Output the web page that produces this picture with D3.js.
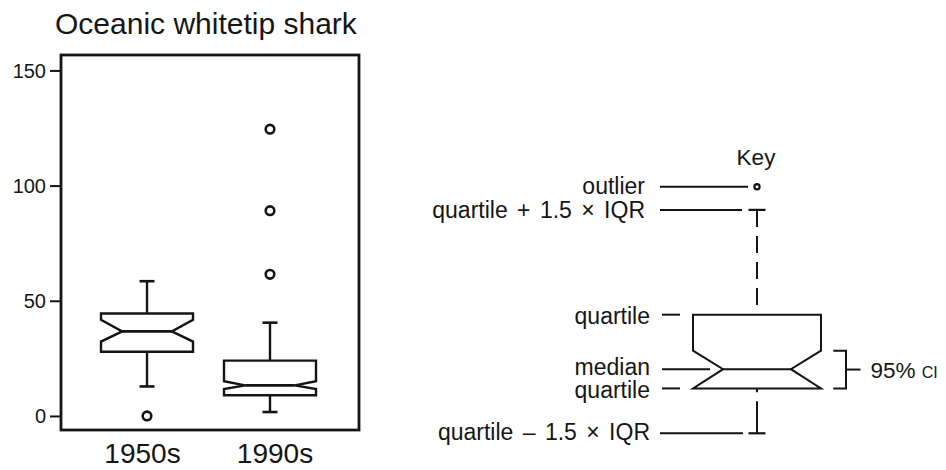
<!DOCTYPE html>
<html>
<head>
<meta charset="utf-8">
<script src="https://cdn.jsdelivr.net/npm/d3@7/dist/d3.min.js"></script>
<style>
  html, body { margin: 0; padding: 0; background: #fff; }
  svg { display: block; }
  text { font-family: "Liberation Sans", Arial, Helvetica, sans-serif; fill: #161616; }
</style>
</head>
<body>
<svg id="chart" width="946" height="470"></svg>
<script>
// ---------- data ----------
const title = "Oceanic whitetip shark";
const categories = ["1950s", "1990s"];
const upperWhisker = [58.5, 40.5];
const q3 = [44.5, 24.0];
const notchHi = [41.7, 15.1];
const median = [36.7, 13.3];
const notchLo = [32.3, 11.7];
const q1 = [27.9, 9.0];
const lowerWhisker = [12.8, 1.7];
const outliers = [[0], [124.5, 89.1, 61.5]];
const yTicks = [0, 50, 100, 150];

// key (schematic box in arbitrary units)
const keyTitle = "Key";
const keyLabels = ["outlier", "quartile + 1.5 \u00D7 IQR", "quartile", "median", "quartile", "quartile \u2013 1.5 \u00D7 IQR"];
const keyValues = [100, 90.6, 48.1, 26.0, 18.2, 0];
const keyNotch = [33.5, 18.2];
const keyCI = ["95%", "CI"];

// ---------- layout ----------
const svg = d3.select("#chart");
const ink = "#141414";
const frame = { left: 61, top: 55, right: 359, bottom: 430 };

const y = d3.scaleLinear().domain([-6.1, 156.7]).range([frame.bottom, frame.top]);
const x = d3.scalePoint().domain(categories).range([147, 270]);
const xLabel = d3.scalePoint().domain(categories).range([142.5, 275]);
const boxHalf = 46, capHalf = 7.5, notchFrac = 0.54;

// title
svg.append("text").attr("x", 55).attr("y", 34).attr("font-size", 30).text(title);

// y axis
const yAxis = d3.axisLeft(y).tickValues(yTicks).tickSize(11).tickPadding(4).tickFormat(d3.format("d"));
const ag = svg.append("g").attr("transform", `translate(${frame.left},0)`).call(yAxis);
ag.select(".domain").remove();
ag.selectAll(".tick line").attr("stroke", ink).attr("stroke-width", 2);
ag.selectAll(".tick text").attr("font-size", 20).attr("font-family", "Liberation Sans, Arial, sans-serif").attr("fill", "#161616").attr("dy", "0.34em");

// frame
svg.append("rect")
  .attr("x", frame.left).attr("y", frame.top)
  .attr("width", frame.right - frame.left).attr("height", frame.bottom - frame.top)
  .attr("fill", "none").attr("stroke", ink).attr("stroke-width", 2.8);

// x labels
svg.selectAll(".xlab").data(categories).join("text")
  .attr("class", "xlab")
  .attr("x", d => xLabel(d)).attr("y", 463)
  .attr("text-anchor", "middle").attr("font-size", 28).text(d => d);

function notchPath(cx, half, yq3, ynh, ymed, ynl, yq1, frac) {
  const L = cx - half, R = cx + half, iL = cx - half * frac, iR = cx + half * frac;
  return `M${L},${yq3}L${R},${yq3}L${R},${ynh}L${iR},${ymed}L${R},${ynl}L${R},${yq1}` +
         `L${L},${yq1}L${L},${ynl}L${iL},${ymed}L${L},${ynh}Z`;
}

// boxes
const boxes = svg.selectAll(".box").data(categories).join("g").attr("class", "box");
boxes.each(function (c, i) {
  const g = d3.select(this), cx = x(c);
  g.append("line").attr("x1", cx).attr("x2", cx).attr("y1", y(upperWhisker[i])).attr("y2", y(q3[i]))
    .attr("stroke", ink).attr("stroke-width", 2.4);
  g.append("line").attr("x1", cx).attr("x2", cx).attr("y1", y(q1[i])).attr("y2", y(lowerWhisker[i]))
    .attr("stroke", ink).attr("stroke-width", 2.4);
  [upperWhisker[i], lowerWhisker[i]].forEach(v => {
    g.append("line").attr("x1", cx - capHalf).attr("x2", cx + capHalf).attr("y1", y(v)).attr("y2", y(v))
      .attr("stroke", ink).attr("stroke-width", 2.6);
  });
  g.append("path")
    .attr("d", notchPath(cx, boxHalf, y(q3[i]), y(notchHi[i]), y(median[i]), y(notchLo[i]), y(q1[i]), notchFrac))
    .attr("fill", "none").attr("stroke", ink).attr("stroke-width", 2.4).attr("stroke-linejoin", "miter");
  g.append("line").attr("x1", cx - boxHalf * notchFrac).attr("x2", cx + boxHalf * notchFrac)
    .attr("y1", y(median[i])).attr("y2", y(median[i])).attr("stroke", ink).attr("stroke-width", 2.8);
  g.selectAll("circle").data(outliers[i]).join("circle")
    .attr("cx", cx).attr("cy", d => y(d)).attr("r", 4.3)
    .attr("fill", "none").attr("stroke", ink).attr("stroke-width", 2.6);
});

// ---------- key ----------
const ky = d3.scaleLinear().domain([0, 100]).range([433.3, 186.7]);
const kx = 757, kHalf = 64, kCap = 8.5, kFrac = 0.53;
const labelRight = [645, 645, 650, 650, 650, 650];
const labelDy = [7.5, 8.5, 9, 6, 10, 7];
const labelWordSpace = [0, 3, 0, 0, 0, 3];
const lineStart = [660, 660, 662, 662, 662, 660];
const lineEnd = [kx - 9, kx - 15, 680, kx - kHalf * kFrac - 13, 680, kx - 14];
const kg = svg.append("g");

kg.append("text").attr("x", 756).attr("y", 165).attr("text-anchor", "middle").attr("font-size", 22.5).text(keyTitle);

kg.selectAll(".klab").data(keyLabels).join("text")
  .attr("class", "klab")
  .attr("x", (d, i) => labelRight[i]).attr("y", (d, i) => ky(keyValues[i]) + labelDy[i])
  .attr("text-anchor", "end").attr("font-size", 23)
  .attr("word-spacing", (d, i) => labelWordSpace[i])
  .text(d => d);

kg.selectAll(".kline").data(keyValues).join("line")
  .attr("class", "kline")
  .attr("x1", (d, i) => lineStart[i]).attr("x2", (d, i) => lineEnd[i])
  .attr("y1", d => ky(d)).attr("y2", d => ky(d))
  .attr("stroke", ink).attr("stroke-width", 2);

kg.append("circle").attr("cx", kx).attr("cy", ky(keyValues[0])).attr("r", 2.6)
  .attr("fill", "none").attr("stroke", ink).attr("stroke-width", 2.2);
kg.append("line").attr("x1", kx).attr("x2", kx).attr("y1", ky(keyValues[1])).attr("y2", ky(keyValues[2]))
  .attr("stroke", ink).attr("stroke-width", 2).attr("stroke-dasharray", "17,9");
kg.append("line").attr("x1", kx).attr("x2", kx).attr("y1", ky(keyValues[5])).attr("y2", ky(keyValues[4]))
  .attr("stroke", ink).attr("stroke-width", 2).attr("stroke-dasharray", "32,9");
[keyValues[1], keyValues[5]].forEach(v => {
  kg.append("line").attr("x1", kx - kCap).attr("x2", kx + kCap).attr("y1", ky(v)).attr("y2", ky(v))
    .attr("stroke", ink).attr("stroke-width", 2.2);
});
kg.append("path")
  .attr("d", notchPath(kx, kHalf, ky(keyValues[2]), ky(keyNotch[0]), ky(keyValues[3]), ky(keyNotch[1]), ky(keyValues[4]), kFrac))
  .attr("fill", "none").attr("stroke", ink).attr("stroke-width", 2);
kg.append("line").attr("x1", kx - kHalf * kFrac).attr("x2", kx + kHalf * kFrac)
  .attr("y1", ky(keyValues[3])).attr("y2", ky(keyValues[3])).attr("stroke", ink).attr("stroke-width", 2);

// CI bracket
const bx0 = 833.3, bx1 = 846;
kg.append("path")
  .attr("d", `M${bx0},${ky(keyNotch[0])}L${bx1},${ky(keyNotch[0])}L${bx1},${ky(keyNotch[1])}L${bx0},${ky(keyNotch[1])}`)
  .attr("fill", "none").attr("stroke", ink).attr("stroke-width", 2);
const ciMid = ky((keyNotch[0] + keyNotch[1]) / 2);
kg.append("line").attr("x1", bx1).attr("x2", 860.5).attr("y1", ciMid).attr("y2", ciMid)
  .attr("stroke", ink).attr("stroke-width", 2);
const ciText = kg.append("text").attr("x", 870.5).attr("y", ciMid + 8.5).attr("font-size", 22.5);
ciText.append("tspan").text(keyCI[0] + " ");
ciText.append("tspan").attr("font-size", 16).text(keyCI[1]);
</script>
</body>
</html>
